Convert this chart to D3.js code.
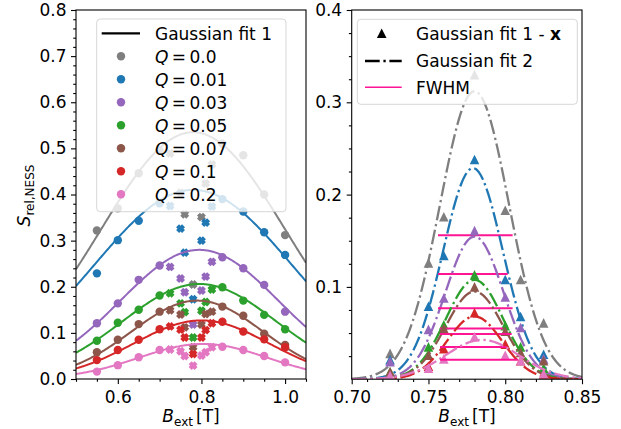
<!DOCTYPE html>
<html>
<head>
<meta charset="utf-8">
<script src="https://cdn.jsdelivr.net/npm/d3@7"></script>
<style>
  body { margin: 0; background: #fff; }
  svg { display: block; font-family: "DejaVu Sans", sans-serif; }
</style>
</head>
<body>
<div id="chart"></div>
<script>
// ---- data ----
const qLabels = ["0.0", "0.01", "0.03", "0.05", "0.07", "0.1", "0.2"];
const colors = ["#7f7f7f", "#1f77b4", "#9467bd", "#2ca02c", "#8c564b", "#d62728", "#e377c2"];

// left panel: measured points (circles) away from the resonance
const bCircle = [0.55, 0.6, 0.65, 0.7, 0.85, 0.9, 0.95, 1.0];
const sCircle = [
  [0.322, 0.370, 0.446, 0.495, 0.510, 0.485, 0.400, 0.312],
  [0.229, 0.301, 0.343, 0.381, 0.390, 0.363, 0.318, 0.269],
  [0.121, 0.164, 0.215, 0.246, 0.264, 0.240, 0.204, 0.146],
  [0.083, 0.122, 0.150, 0.181, 0.199, 0.170, 0.139, 0.108],
  [0.058, 0.085, 0.119, 0.146, 0.157, 0.137, 0.098, 0.074],
  [0.041, 0.063, 0.085, 0.108, 0.124, 0.103, 0.086, 0.069],
  [0.016, 0.030, 0.047, 0.063, 0.070, 0.063, 0.050, 0.036]
];

// left panel: points near the resonance (crosses)
const bCross = [0.725, 0.75, 0.76, 0.78, 0.80, 0.81, 0.825];
const sCross = [
  [0.489, 0.404, 0.357, 0.205, 0.351, 0.424, 0.465],
  [0.375, 0.326, 0.274, 0.173, 0.300, 0.339, 0.374],
  [0.243, 0.218, 0.188, 0.118, 0.192, 0.222, 0.254],
  [0.186, 0.164, 0.145, 0.090, 0.148, 0.167, 0.194],
  [0.149, 0.140, 0.112, 0.069, 0.118, 0.141, 0.146],
  [0.114, 0.107, 0.090, 0.054, 0.090, 0.106, 0.121],
  [0.064, 0.060, 0.050, 0.029, 0.051, 0.058, 0.069]
];

// Gaussian fit 1 (left): amplitude, centre, width
const fit1Amp = [0.535, 0.41, 0.28, 0.206, 0.17, 0.127, 0.076];
const fit1Ctr = [0.78, 0.78, 0.795, 0.795, 0.79, 0.80, 0.804];
const fit1Sig = [0.22, 0.235, 0.189, 0.184, 0.157, 0.162, 0.154];

// right panel: fit 1 minus crosses (triangles)
const sTri = [
  [0.028, 0.126, 0.176, 0.330, 0.183, 0.108, 0.061],
  [0.021, 0.079, 0.134, 0.238, 0.108, 0.068, 0.027],
  [0.019, 0.054, 0.088, 0.161, 0.089, 0.056, 0.022],
  [0.008, 0.035, 0.059, 0.113, 0.058, 0.035, 0.012],
  [0.008, 0.026, 0.055, 0.100, 0.052, 0.029, 0.020],
  [0.003, 0.014, 0.033, 0.072, 0.038, 0.020, 0.005],
  [0.004, 0.012, 0.022, 0.046, 0.026, 0.020, 0.006]
];

// Gaussian fit 2 (right)
const fit2Amp = [0.312, 0.2286, 0.1545, 0.1076, 0.095, 0.068, 0.0426];
const fit2Ctr = [0.78, 0.779, 0.78, 0.78, 0.78, 0.78, 0.785];
const fit2Sig = [0.0225, 0.0195, 0.019, 0.0187, 0.0187, 0.018, 0.024];

// FWHM segments
const fwhmY = [0.156, 0.114, 0.077, 0.055, 0.049, 0.035, 0.021];
const fwhmX0 = [0.7562, 0.7562, 0.7562, 0.7575, 0.7575, 0.7575, 0.7575];
const fwhmX1 = [0.8048, 0.8016, 0.8048, 0.7987, 0.8042, 0.8009, 0.8085];

const leftXTicks = [0.6, 0.8, 1.0];
const leftYTicks = [0, 0.1, 0.2, 0.3, 0.4, 0.5, 0.6, 0.7, 0.8];
const rightXTicks = [0.70, 0.75, 0.80, 0.85];
const rightYTicks = [0.1, 0.2, 0.3, 0.4];

// ---- layout ----
const width = 621, height = 429;
const plotTop = 10, plotBottom = 379;
const fwhmColor = "#ff1493";

const svg = d3.select("#chart").append("svg")
  .attr("width", width).attr("height", height)
  .attr("viewBox", [0, 0, width, height]);

const xL = d3.scaleLinear().domain([0.5, 1.05]).range([76, 306]);
const yL = d3.scaleLinear().domain([0, 0.8]).range([plotBottom, plotTop]);
const xR = d3.scaleLinear().domain([0.70, 0.85]).range([351.7, 582]);
const yR = d3.scaleLinear().domain([0, 0.4]).range([379.2, plotTop]);

const gauss = (a, c, s) => b => a * Math.exp(-((b - c) ** 2) / (2 * s * s));

// clip paths
const defs = svg.append("defs");
defs.append("clipPath").attr("id", "clipL").append("rect")
  .attr("x", 76).attr("y", plotTop).attr("width", 230).attr("height", plotBottom - plotTop);
defs.append("clipPath").attr("id", "clipR").append("rect")
  .attr("x", 351.7).attr("y", plotTop).attr("width", 582 - 351.7).attr("height", plotBottom - plotTop);

// filled "X" marker like matplotlib
function xMarker(a) {
  const w = a / 2;
  const pts = [[-w,-a],[w,-a],[w,-w],[a,-w],[a,w],[w,w],[w,a],[-w,a],[-w,w],[-a,w],[-a,-w],[-w,-w]];
  return "M" + pts.map(p => p.join(",")).join("L") + "Z";
}
const triPath = h => `M0,${-h}L${-h},${h}L${h},${h}Z`;

// ---- axes helper ----
function drawAxes(x, y, xt, yt, xMinor, yMinor, xFmt, yFmt) {
  const x0 = x.range()[0], x1 = x.range()[1];
  const y0 = y.range()[0], y1 = y.range()[1];
  svg.append("g").attr("transform", `translate(0,${y0})`)
    .call(d3.axisBottom(x).tickValues(xt).tickFormat(xFmt).tickSize(5).tickPadding(7).tickSizeOuter(0));
  svg.append("g").attr("transform", `translate(0,${y0})`)
    .call(d3.axisBottom(x).tickValues(xMinor).tickFormat("").tickSize(2.8).tickSizeOuter(0));
  svg.append("g").attr("transform", `translate(${x0},0)`)
    .call(d3.axisLeft(y).tickValues(yt).tickFormat(yFmt).tickSize(5).tickPadding(4.5).tickSizeOuter(0));
  svg.append("g").attr("transform", `translate(${x0},0)`)
    .call(d3.axisLeft(y).tickValues(yMinor).tickFormat("").tickSize(2.8).tickSizeOuter(0));
  svg.selectAll(".domain").remove();
  svg.selectAll(".tick line").attr("stroke", "#000").attr("stroke-width", 1.1);
  svg.selectAll(".tick text").attr("fill", "#000")
    .style("font-size", "17px").style("font-family", "DejaVu Sans, sans-serif");
  svg.append("rect").attr("x", x0).attr("y", y1).attr("width", x1 - x0).attr("height", y0 - y1)
    .attr("fill", "none").attr("stroke", "#000").attr("stroke-width", 1.1);
}

// ---- left panel ----
const gL = svg.append("g").attr("clip-path", "url(#clipL)");
const bFine = d3.range(0.5, 1.0501, 0.0025);
qLabels.forEach((q, i) => {
  const f = gauss(fit1Amp[i], fit1Ctr[i], fit1Sig[i]);
  gL.append("path")
    .datum(bFine)
    .attr("fill", "none").attr("stroke", colors[i]).attr("stroke-width", 2)
    .attr("d", d3.line().x(d => xL(d)).y(d => yL(f(d))));
  gL.append("g").selectAll("circle")
    .data(bCircle.map((b, j) => [b, sCircle[i][j]]))
    .join("circle")
    .attr("cx", d => xL(d[0])).attr("cy", d => yL(d[1]))
    .attr("r", 4.2).attr("fill", colors[i]);
  gL.append("g").selectAll("path")
    .data(bCross.map((b, j) => [b, sCross[i][j]]))
    .join("path")
    .attr("d", xMarker(4.2))
    .attr("transform", d => `translate(${xL(d[0])},${yL(d[1])}) rotate(45)`)
    .attr("fill", colors[i]);
});

// ---- right panel ----
const gR = svg.append("g").attr("clip-path", "url(#clipR)");
const bFineR = d3.range(0.70, 0.85001, 0.0005);
qLabels.forEach((q, i) => {
  gR.append("g").selectAll("path")
    .data(bCross.map((b, j) => [b, sTri[i][j]]))
    .join("path")
    .attr("d", triPath(4.8))
    .attr("transform", d => `translate(${xR(d[0])},${yR(d[1])})`)
    .attr("fill", colors[i]);
  const f = gauss(fit2Amp[i], fit2Ctr[i], fit2Sig[i]);
  gR.append("path")
    .datum(bFineR)
    .attr("fill", "none").attr("stroke", colors[i]).attr("stroke-width", 2.3)
    .attr("stroke-dasharray", "14.7,3.7,2.3,3.7")
    .attr("d", d3.line().x(d => xR(d)).y(d => yR(f(d))));
  gR.append("line")
    .attr("x1", xR(fwhmX0[i])).attr("x2", xR(fwhmX1[i]))
    .attr("y1", yR(fwhmY[i])).attr("y2", yR(fwhmY[i]))
    .attr("stroke", fwhmColor).attr("stroke-width", 2);
});

// ---- axes ----
drawAxes(xL, yL, leftXTicks, leftYTicks,
  [0.5, 0.55, 0.65, 0.7, 0.75, 0.85, 0.9, 0.95, 1.05],
  d3.range(0, 0.8001, 0.02).filter(v => Math.abs(v * 10 - Math.round(v * 10)) > 1e-6),
  d3.format(".1f"), d3.format(".1f"));
drawAxes(xR, yR, rightXTicks, rightYTicks,
  d3.range(0.70, 0.8501, 0.01).filter(v => Math.abs(v * 20 - Math.round(v * 20)) > 1e-6),
  d3.range(0.025, 0.4, 0.025).filter(v => Math.abs(v * 10 - Math.round(v * 10)) > 1e-6),
  d3.format(".2f"), d3.format(".1f"));

// ---- axis labels ----
const yl = svg.append("text").attr("transform", "translate(30,195.5) rotate(-90)")
  .attr("text-anchor", "middle").style("font-size", "17px");
yl.append("tspan").attr("font-style", "italic").text("S");
yl.append("tspan").attr("dy", 4).style("font-size", "12px").text("rel,NESS");

function xLabel(cx) {
  const t = svg.append("text").attr("x", cx).attr("y", 422)
    .attr("text-anchor", "middle").style("font-size", "17px");
  t.append("tspan").attr("font-style", "italic").text("B");
  t.append("tspan").attr("dy", 3.5).style("font-size", "12px").text("ext");
  t.append("tspan").attr("dy", -3.5).attr("dx", 3).text("[T]");
}
xLabel(191);
xLabel(467);

// ---- legends ----
function legendBox(x0, y0, x1, y1) {
  svg.append("rect").attr("x", x0).attr("y", y0).attr("width", x1 - x0).attr("height", y1 - y0)
    .attr("rx", 3.5).attr("fill", "#fff").attr("fill-opacity", 0.8)
    .attr("stroke", "#ccc").attr("stroke-opacity", 0.8).attr("stroke-width", 1);
}
legendBox(96.7, 19, 286, 211.7);
svg.append("line").attr("x1", 101.7).attr("x2", 140).attr("y1", 33.3).attr("y2", 33.3)
  .attr("stroke", "#000").attr("stroke-width", 2.3);
svg.append("text").attr("x", 155).attr("y", 39.5).style("font-size", "17px").text("Gaussian fit 1");
qLabels.forEach((q, i) => {
  const ry = 56.3 + i * 23;
  svg.append("circle").attr("cx", 121).attr("cy", ry).attr("r", 4.2).attr("fill", colors[i]);
  const t = svg.append("text").attr("x", 155).attr("y", ry + 6.2).style("font-size", "17px");
  t.append("tspan").attr("font-style", "italic").text("Q");
  t.append("tspan").text("\u2009=\u2009" + q);
});

legendBox(357.3, 19.3, 577.3, 104.3);
svg.append("path").attr("d", triPath(4.8)).attr("transform", "translate(381.7,33.3)").attr("fill", "#000");
const t1 = svg.append("text").attr("x", 416).attr("y", 39.5).style("font-size", "17px");
t1.append("tspan").text("Gaussian fit 1 - ");
t1.append("tspan").attr("font-weight", "bold").text("x");
svg.append("line").attr("x1", 365).attr("x2", 401.7).attr("y1", 61).attr("y2", 61)
  .attr("stroke", "#000").attr("stroke-width", 2.3).attr("stroke-dasharray", "14.7,3.7,2.3,3.7");
svg.append("text").attr("x", 416).attr("y", 67.2).style("font-size", "17px").text("Gaussian fit 2");
svg.append("line").attr("x1", 365).attr("x2", 401.7).attr("y1", 87.3).attr("y2", 87.3)
  .attr("stroke", fwhmColor).attr("stroke-width", 1.5);
svg.append("text").attr("x", 416).attr("y", 93.5).style("font-size", "17px").text("FWHM");
</script>
</body>
</html>
